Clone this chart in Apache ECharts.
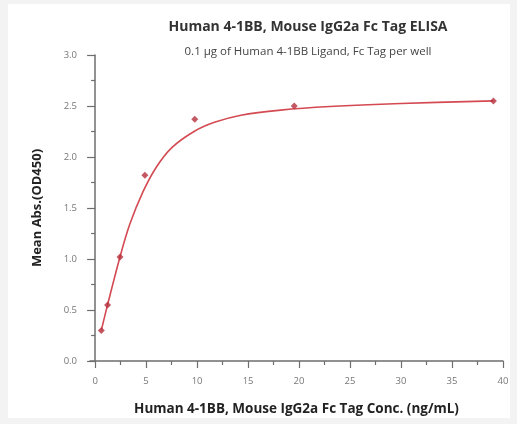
<!DOCTYPE html>
<html>
<head>
<meta charset="utf-8">
<script src="https://cdn.jsdelivr.net/npm/echarts@6/dist/echarts.min.js"></script>
<style>
html,body{margin:0;padding:0;background:#f3f3f3;}
#c{position:absolute;left:8px;top:4px;width:502px;height:414px;background:#fff;}
</style>
</head>
<body>
<div id="c"></div>
<script>
// Measured data points (concentration ng/mL, OD450)
var concentrations = [0.61, 1.22, 2.44, 4.88, 9.77, 19.53, 39.06];
var absorbance = [0.30, 0.55, 1.02, 1.82, 2.37, 2.50, 2.55];
// Fitted curve
var curveX = [0.61, 1.22, 2.44, 3.4, 4.7, 6.0, 7.5, 9.7, 11.7, 14.3, 18.2, 23, 30, 39.06];
var curveY = [0.30, 0.55, 1.02, 1.34, 1.66, 1.90, 2.09, 2.25, 2.34, 2.41, 2.46, 2.495, 2.525, 2.55];
var xMajorTicks = [0, 5, 10, 15, 20, 25, 30, 35, 40];
var xMinorTicks = [2.5, 7.5, 12.5, 17.5, 22.5, 27.5, 32.5, 37.5];

var FONT = '"Open Sans", "Liberation Sans", sans-serif';
var chart = echarts.init(document.getElementById('c'));
var axisColor = '#6e6e6e';
chart.setOption({
  animation: false,
  title: [
    {text: 'Human 4-1BB, Mouse IgG2a Fc Tag ELISA', left: 295, top: 11, textAlign: 'center',
     textStyle: {fontFamily: FONT, fontSize: 14, fontWeight: 'bold', color: '#333'}},
    {text: '0.1 \u03bcg of Human 4-1BB Ligand, Fc Tag per well', left: 295, top: 37, textAlign: 'center',
     textStyle: {fontFamily: FONT, fontSize: 11.5, fontWeight: 'normal', color: '#444'}}
  ],
  grid: {left: 82, top: 51, right: 7, bottom: 57, containLabel: false, outerBoundsMode: 'none'},
  xAxis: [
    {type: 'value', min: -0.5, max: 40,
     name: 'Human 4-1BB, Mouse IgG2a Fc Tag Conc. (ng/mL)', nameLocation: 'middle', nameGap: 41,
     nameTextStyle: {fontFamily: FONT, fontSize: 13.5, fontWeight: 'bold', color: '#222'},
     axisLine: {show: true, lineStyle: {color: axisColor, width: 1.5}},
     axisTick: {show: true, inside: false, length: 7, customValues: xMajorTicks, lineStyle: {color: axisColor, width: 1.2}},
     axisLabel: {customValues: xMajorTicks, fontFamily: FONT, fontSize: 9.5, color: '#777', margin: 15},
     splitLine: {show: false}},
    {type: 'value', min: -0.5, max: 40, position: 'bottom',
     axisLine: {show: false},
     axisTick: {show: true, inside: false, length: 4, customValues: xMinorTicks, lineStyle: {color: axisColor, width: 1.2}},
     axisLabel: {show: false},
     splitLine: {show: false}}
  ],
  yAxis: {
    type: 'value', min: 0, max: 3, interval: 0.5,
    name: 'Mean Abs.(OD450)', nameLocation: 'middle', nameGap: 46,
    nameTextStyle: {fontFamily: FONT, fontSize: 13, fontWeight: 'bold', color: '#222'},
    axisLine: {show: true, lineStyle: {color: axisColor, width: 1.5}},
    axisTick: {show: true, inside: false, length: 8, lineStyle: {color: axisColor, width: 1.2}},
    minorTick: {show: true, splitNumber: 2, length: 4, lineStyle: {color: axisColor, width: 1.2}},
    axisLabel: {fontFamily: FONT, fontSize: 9.5, color: '#777', margin: 13,
      formatter: function (v) { return v.toFixed(1); }},
    splitLine: {show: false}
  },
  series: [
    {type: 'line', data: curveX.map(function (x, i) { return [x, curveY[i]]; }),
     smooth: 0.35, showSymbol: false, lineStyle: {color: '#d44a52', width: 1.6}, z: 2},
    {type: 'scatter', data: concentrations.map(function (x, i) { return [x, absorbance[i]]; }),
     symbol: 'diamond', symbolSize: 7, itemStyle: {color: '#b5303c'}, z: 3}
  ]
});
</script>
</body>
</html>
